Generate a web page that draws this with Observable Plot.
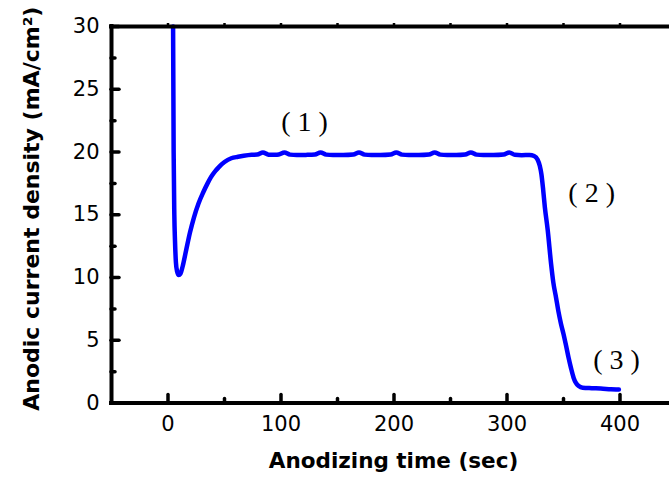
<!DOCTYPE html>
<html>
<head>
<meta charset="utf-8">
<script src="https://cdn.jsdelivr.net/npm/d3@7"></script>
<script src="https://cdn.jsdelivr.net/npm/@observablehq/plot@0.6"></script>
<style>
  html, body { margin: 0; padding: 0; background: #fff; overflow: hidden; }
</style>
</head>
<body>
<div id="chart"></div>
<script>
// ---- data ----
// initial drop and recovery
const timeRise = [4.5, 5.0, 5.6, 6.2, 7.0, 8.0, 9.5, 11, 13, 16, 19.5, 23, 27, 31, 35, 38, 42, 45, 50, 56, 62, 67];
const currentRise = [30, 20, 15, 12.9, 11.2, 10.5, 10.2, 10.3, 10.9, 12.15, 13.6, 14.8, 15.9, 16.75, 17.5, 18.0, 18.5, 18.8, 19.2, 19.5, 19.62, 19.7];
// steady-state plateau with small oscillations
const timePlateau = [74, 79, 84, 89, 95, 98, 103, 108, 114, 122, 130, 135, 140, 146, 155, 164, 169, 174, 180, 188, 197, 202, 207, 213, 222, 231, 236, 241, 247, 255, 263, 268, 273, 279, 288, 297, 302, 307, 313, 320];
const currentPlateau = [19.78, 19.8, 19.97, 19.79, 19.78, 19.8, 19.97, 19.79, 19.76, 19.77, 19.8, 19.97, 19.79, 19.76, 19.76, 19.8, 19.97, 19.79, 19.76, 19.76, 19.8, 19.97, 19.79, 19.76, 19.76, 19.8, 19.97, 19.79, 19.76, 19.76, 19.8, 19.97, 19.79, 19.76, 19.76, 19.8, 19.97, 19.78, 19.75, 19.76];
// final fall
const timeFall = [324, 327, 329, 330.5, 332, 333.5, 336, 339, 341, 343.4, 345.5, 347.8, 350, 352.2, 354.5, 356.6, 359, 361, 363.5, 367, 375, 383, 392, 399];
const currentFall = [19.68, 19.4, 18.9, 18.2, 17.0, 15.6, 13.8, 11.1, 9.6, 8.4, 7.3, 6.3, 5.5, 4.6, 3.6, 2.8, 2.0, 1.6, 1.35, 1.22, 1.18, 1.15, 1.1, 1.07];

// stage annotations
const stageText = ["(1)", "(2)", "(3)"];
const stageTime = [124, 378, 400];
const stageCurrent = [22.35, 16.7, 3.4];

// ticks
const xTicks = [0, 100, 200, 300, 400];
const xMinorTicks = [50, 150, 250, 350];
const xTopTicks = [0, 50, 100, 150, 200, 250, 300, 350, 400];
const yTicks = [0, 5, 10, 15, 20, 25, 30];
const yMinorTicks = [2.5, 7.5, 12.5, 17.5, 22.5, 27.5];

const xLabel = "Anodizing time (sec)";
const yLabel = "Anodic current density (mA/cm²)";

// ---- build table ----
const series = [];
[[timeRise, currentRise], [timePlateau, currentPlateau], [timeFall, currentFall]].forEach(([t, c]) => {
  t.forEach((v, i) => series.push({time: v, current: c[i]}));
});
const stages = stageText.map((s, i) => ({label: s, time: stageTime[i], current: stageCurrent[i]}));

const W = 669, H = 477, ML = 111, MR = 0, MT = 26, MB = 74.5;
const frameW = W - ML - MR;
const frameH = H - MT - MB;

const chart = Plot.plot({
  width: W,
  height: H,
  marginLeft: ML,
  marginRight: MR,
  marginTop: MT,
  marginBottom: MB,
  style: {fontFamily: "DejaVu Sans", fontSize: "21px", color: "black", background: "white", overflow: "hidden"},
  x: {domain: [-50, 450], range: [111, 676], ticks: xTicks, tickSize: 0, tickPadding: 13, tickFormat: d => String(d), label: null},
  y: {domain: [0, 30], ticks: yTicks, tickSize: 0, tickPadding: 12, tickFormat: d => String(d), label: null},
  marks: [
    Plot.line(series, {x: "time", y: "current", stroke: "#0000ff", strokeWidth: 4.5, curve: "monotone-x", strokeLinecap: "round", strokeLinejoin: "round"}),
    // inward ticks, left axis
    Plot.tickY(yTicks, {y: d => d, stroke: "black", strokeWidth: 3.5, strokeLinecap: "round", insetRight: frameW - 8}),
    Plot.tickY(yMinorTicks, {y: d => d, stroke: "black", strokeWidth: 3.5, strokeLinecap: "round", insetRight: frameW - 4}),
    // inward ticks, bottom axis
    Plot.tickX(xTicks, {x: d => d, stroke: "black", strokeWidth: 3.5, strokeLinecap: "round", insetTop: frameH - 8}),
    Plot.tickX(xMinorTicks, {x: d => d, stroke: "black", strokeWidth: 3.5, strokeLinecap: "round", insetTop: frameH - 4}),
    // tiny ticks on top border
    Plot.tickX(xTopTicks, {x: d => d, stroke: "black", strokeWidth: 2.5, insetTop: -3, insetBottom: frameH}),
    // frame (left, bottom, top)
    Plot.ruleX([-50], {x: d => d, stroke: "black", strokeWidth: 4, strokeLinecap: "square"}),
    Plot.ruleY([0, 30], {y: d => d, stroke: "black", strokeWidth: 4, strokeLinecap: "square"}),
    // stage annotations
    Plot.text(stages, {x: "time", y: "current", text: "label", fontFamily: "Liberation Serif", fontSize: 28, fill: "black", lineAnchor: "middle"}),
    // axis titles
    Plot.text([xLabel], {text: d => d, frameAnchor: "bottom", dx: 3, dy: 58, textAnchor: "middle", lineAnchor: "middle", fontWeight: "bold", fontSize: 21.5, fill: "black"}),
    Plot.text([yLabel], {text: d => d, frameAnchor: "left", dx: -80, dy: -6, rotate: -90, textAnchor: "middle", lineAnchor: "middle", fontWeight: "bold", fontSize: 22, fill: "black"})
  ]
});

chart.querySelectorAll("text").forEach(t => {
  if (/^\(\d\)$/.test(t.textContent)) t.setAttribute("letter-spacing", "7");
});

document.getElementById("chart").appendChild(chart);
</script>
</body>
</html>
